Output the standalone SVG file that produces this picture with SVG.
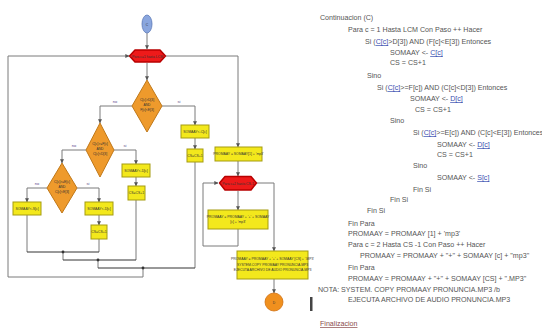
<svg xmlns="http://www.w3.org/2000/svg" width="542" height="332" viewBox="0 0 542 332">
<style>
.ln{fill:none;stroke:#7a7a7a;stroke-width:1}
.dk{fill:none;stroke:#333;stroke-width:1}
.box{fill:#f3e81c;stroke:#a59c10;stroke-width:1}
.dia{fill:#ee9a2c;stroke:#c07818;stroke-width:1}
.loop{fill:#ee1a1a;stroke:#b80000;stroke-width:1.5;stroke-linejoin:round}
.nt{font-family:"Liberation Sans",Arial,sans-serif;font-size:3.4px;fill:#333;text-anchor:middle}
.lb{font-family:"Liberation Sans",Arial,sans-serif;font-size:4px;fill:#5a4a8a;text-anchor:middle}
.code{font-family:"Liberation Sans",Arial,sans-serif;font-size:7.1px;fill:#555}
.ref{fill:#3a4fb0;text-decoration:underline}
.fin{font-family:"Liberation Sans",Arial,sans-serif;font-size:7.1px;fill:#8a4a4a;text-decoration:underline}
</style>
<defs>
<marker id="ar" viewBox="0 0 6 6" refX="5.5" refY="3" markerWidth="4" markerHeight="4" orient="auto">
<path d="M0,0 L6,3 L0,6 Z" fill="#555"/>
</marker>
</defs>
<rect width="542" height="332" fill="#ffffff"/>

<g id="connectors">
<path class="ln" d="M147,33 V49" marker-end="url(#ar)"/>
<path class="ln" d="M147,63 V80" marker-end="url(#ar)"/>
<path class="ln" d="M132,106 H100 V123" marker-end="url(#ar)"/>
<path class="ln" d="M162,106 H195 V125" marker-end="url(#ar)"/>
<path class="ln" d="M195,138 V149" marker-end="url(#ar)"/>
<path class="ln" d="M86,150 H62 V163" marker-end="url(#ar)"/>
<path class="ln" d="M114,150 H136 V164" marker-end="url(#ar)"/>
<path class="ln" d="M136,177 V186" marker-end="url(#ar)"/>
<path class="ln" d="M47,188 H27 V202" marker-end="url(#ar)"/>
<path class="ln" d="M77,188 H99 V202" marker-end="url(#ar)"/>
<path class="ln" d="M99,215 V225" marker-end="url(#ar)"/>
<path class="ln" d="M27,215 V252"/>
<path class="ln" d="M99,239 V252"/>
<path class="dk" d="M27,252 H99"/>
<path class="ln" d="M63,252 V260"/>
<path class="ln" d="M136,200 V260"/>
<path class="dk" d="M63,260 H136"/>
<path class="ln" d="M98,260 V268"/>
<path class="ln" d="M195,162 V268"/>
<path class="dk" d="M98,268 H195"/>
<path class="ln" d="M143,268 V277 H8 V56 H129" marker-end="url(#ar)"/>
<circle cx="63" cy="252" r="1.4" fill="#333"/>
<circle cx="98" cy="260" r="1.4" fill="#333"/>
<circle cx="143" cy="268" r="1.4" fill="#333"/>
<path class="ln" d="M166,56 H238 V147" marker-end="url(#ar)"/>
<path class="ln" d="M238,161 V176" marker-end="url(#ar)"/>
<path class="ln" d="M238,191 V210" marker-end="url(#ar)"/>
<path class="ln" d="M238,229 V246 H203 V183 H218" marker-end="url(#ar)"/>
<path class="ln" d="M257,183 H274 V251" marker-end="url(#ar)"/>
<path class="ln" d="M274,279 V293" marker-end="url(#ar)"/>
<text class="lb" x="115" y="103">no</text>
<text class="lb" x="179" y="103">si</text>
<text class="lb" x="74" y="147">no</text>
<text class="lb" x="125" y="147">si</text>
<text class="lb" x="37" y="185">no</text>
<text class="lb" x="88" y="185">si</text>
</g>

<g id="start">
<ellipse cx="147" cy="24" rx="5" ry="9" fill="#8aa6de" stroke="#5a78b8" stroke-width="0.8"/>
<text class="nt" x="147" y="25.5">C</text>
</g>
<g id="loop1">
<polygon class="loop" points="129.5,56 135,50 160,50 165.5,56 160,62 135,62"/>
<text class="nt" x="147.5" y="57.5" fill="#fff">Para c=1 hasta LCM</text>
</g>
<g id="dec1">
<polygon class="dia" points="147,80 162,106 147,132 132,106"/>
<text class="nt" x="147" y="101">C[c]&gt;D[3]</text>
<text class="nt" x="147" y="106">AND</text>
<text class="nt" x="147" y="111">F[c]&lt;E[3]</text>
</g>
<g id="box_s1">
<rect class="box" x="181" y="125" width="28" height="13"/>
<text class="nt" x="195" y="132.5">SOMAAY&lt;-C[c]</text>
</g>
<g id="box_cs1">
<rect class="box" x="187" y="149" width="16" height="13"/>
<text class="nt" x="195" y="156.5">CS=CS+1</text>
</g>
<g id="dec2">
<polygon class="dia" points="100,123 114,150 100,177 86,150"/>
<text class="nt" x="100" y="145">C[c]&gt;=F[c]</text>
<text class="nt" x="100" y="150">AND</text>
<text class="nt" x="100" y="155">C[c]&lt;D[3]</text>
</g>
<g id="box_s2">
<rect class="box" x="122" y="164" width="28" height="13"/>
<text class="nt" x="136" y="171.5">SOMAAY&lt;-D[c]</text>
</g>
<g id="box_cs2">
<rect class="box" x="128" y="186" width="17" height="14"/>
<text class="nt" x="136.5" y="194">CS=CS+1</text>
</g>
<g id="dec3">
<polygon class="dia" points="62,163 77,188 62,213 47,188"/>
<text class="nt" x="62" y="183">C[c]&gt;=E[c]</text>
<text class="nt" x="62" y="188">AND</text>
<text class="nt" x="62" y="193">C[c]&lt;E[3]</text>
</g>
<g id="box_s3n">
<rect class="box" x="13" y="202" width="28" height="13"/>
<text class="nt" x="27" y="209.5">SOMAAY&lt;-S[c]</text>
</g>
<g id="box_s3s">
<rect class="box" x="85" y="202" width="28" height="13"/>
<text class="nt" x="99" y="209.5">SOMAAY&lt;-D[c]</text>
</g>
<g id="box_cs3">
<rect class="box" x="91" y="225" width="16" height="14"/>
<text class="nt" x="99" y="233">CS=CS+1</text>
</g>
<g id="box_prom1">
<rect class="box" x="215" y="147" width="47" height="14"/>
<text class="nt" x="238.5" y="155">PROMAAY = SOMAAY[1] + 'mp3'</text>
</g>
<g id="loop2">
<polygon class="loop" points="219.5,183 225,176.5 251,176.5 256.5,183 251,190 225,190"/>
<text class="nt" x="238" y="184.5" fill="#fff">Para c=2 hasta CS-1</text>
</g>
<g id="box_prom2">
<rect class="box" x="208" y="210" width="60" height="19"/>
<text class="nt" x="238" y="218">PROMAAY = PROMAAY + '+' + SOMAAY</text>
<text class="nt" x="238" y="223">[c] + 'mp3'</text>
</g>
<g id="box_final">
<rect class="box" x="237" y="251" width="71" height="28"/>
<text class="nt" x="272.5" y="260">PROMAAY = PROMAAY + '+' + SOMAAY [CS] + '.MP3'</text>
<text class="nt" x="272.5" y="265.5">SYSTEM.COPY PROMAAY PRONUNCIA.MP3</text>
<text class="nt" x="272.5" y="271">EJECUTA ARCHIVO DE AUDIO PRONUNCIA.MP3</text>
</g>
<g id="end">
<circle cx="274" cy="302" r="9" fill="#f0901e" stroke="#d07010" stroke-width="0.8"/>
<text class="nt" x="274" y="303.5">D</text>
</g>

<rect x="310" y="297" width="2.5" height="14" fill="#444"/>

<g id="code">
<text class="code" x="320" y="20">Continuacion (C)</text>
<text class="code" x="348" y="32">Para c = 1 Hasta LCM Con Paso ++ Hacer</text>
<text class="code" x="365" y="44">Si (<tspan class="ref">C[c]</tspan>&gt;D[3]) AND (F[c]&lt;E[3]) Entonces</text>
<text class="code" x="390" y="55">SOMAAY &lt;- <tspan class="ref">C[c]</tspan></text>
<text class="code" x="390" y="65">CS = CS+1</text>
<text class="code" x="367" y="78">Sino</text>
<text class="code" x="377" y="90">Si (<tspan class="ref">C[c]</tspan>&gt;=F[c]) AND (C[c]&lt;D[3]) Entonces</text>
<text class="code" x="410" y="101">SOMAAY &lt;- <tspan class="ref">D[c]</tspan></text>
<text class="code" x="415" y="112">CS = CS+1</text>
<text class="code" x="390" y="123">Sino</text>
<text class="code" x="413" y="135">Si (<tspan class="ref">C[c]</tspan>&gt;=E[c]) AND (C[c]&lt;E[3]) Entonces</text>
<text class="code" x="437" y="147">SOMAAY &lt;- <tspan class="ref">D[c]</tspan></text>
<text class="code" x="437" y="157">CS = CS+1</text>
<text class="code" x="413" y="168">Sino</text>
<text class="code" x="437" y="180">SOMAAY &lt;- <tspan class="ref">S[c]</tspan></text>
<text class="code" x="413" y="192">Fin Si</text>
<text class="code" x="390" y="202">Fin Si</text>
<text class="code" x="367" y="213">Fin Si</text>
<text class="code" x="348" y="226">Fin Para</text>
<text class="code" x="348" y="236">PROMAAY = PROMAAY [1] + 'mp3'</text>
<text class="code" x="348" y="247">Para c = 2 Hasta CS -1 Con Paso ++ Hacer</text>
<text class="code" x="360" y="258">PROMAAY = PROMAAY + "+" + SOMAAY [c] + "mp3"</text>
<text class="code" x="348" y="270">Fin Para</text>
<text class="code" x="348" y="281">PROMAAY = PROMAAY + "+" + SOMAAY [CS] + ".MP3"</text>
<text class="code" x="318" y="292">NOTA: SYSTEM. COPY PROMAAY PRONUNCIA.MP3 /b</text>
<text class="code" x="348" y="302">EJECUTA ARCHIVO DE AUDIO PRONUNCIA.MP3</text>
<text class="fin" x="320" y="326">Finalizacion</text>
</g>
</svg>
